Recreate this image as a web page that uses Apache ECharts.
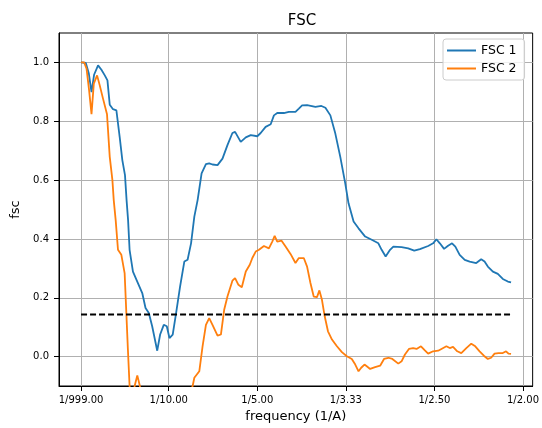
<!DOCTYPE html>
<html>
<head>
<meta charset="utf-8">
<script src="https://cdn.jsdelivr.net/npm/echarts@6/dist/echarts.min.js"></script>
<style>
  html, body { margin: 0; padding: 0; background: #fff; }
  #chart { width: 542px; height: 428px; }
</style>
</head>
<body>
<div id="chart"></div>
<script>
// FSC 1 (blue) - frequency in 1/A
var freq1 = [0.001, 0.0064, 0.0098, 0.0128, 0.0157, 0.0202, 0.0240, 0.0278, 0.0308, 0.0334,
    0.0371, 0.0409, 0.0446, 0.0476, 0.0506, 0.0524, 0.0541, 0.0558, 0.0596, 0.0652,
    0.0701, 0.0738, 0.0775, 0.0813, 0.0870, 0.0903, 0.0944, 0.0978, 0.1008, 0.1045,
    0.1083, 0.1128, 0.1176, 0.1213, 0.1252, 0.1289, 0.1326, 0.1371, 0.1420, 0.1457,
    0.1494, 0.1551, 0.1570, 0.1607, 0.1663, 0.1719, 0.1749, 0.1813, 0.1870, 0.1926,
    0.2000, 0.2038, 0.2094, 0.2151, 0.2188, 0.2225, 0.2300, 0.2356, 0.2431, 0.2469,
    0.2506, 0.2562, 0.2656, 0.2724, 0.2769, 0.2825, 0.2881, 0.2937, 0.2993, 0.3030,
    0.3087, 0.3143, 0.3218, 0.3292, 0.3367, 0.3404, 0.3449, 0.3499, 0.3536, 0.3629,
    0.3704, 0.3772, 0.3836, 0.3929, 0.3985, 0.4022, 0.4061, 0.4109, 0.4154, 0.4199,
    0.4236, 0.4285, 0.4342, 0.4398, 0.4472, 0.4528, 0.4566, 0.4603, 0.4660, 0.4716,
    0.4772, 0.4829, 0.4865];
var fsc1 = [1.000, 0.998, 0.962, 0.899, 0.958, 0.990, 0.975, 0.956, 0.939, 0.856,
    0.841, 0.837, 0.747, 0.668, 0.617, 0.532, 0.464, 0.363, 0.289, 0.250,
    0.216, 0.165, 0.148, 0.103, 0.020, 0.075, 0.108, 0.103, 0.063, 0.075,
    0.148, 0.238, 0.323, 0.329, 0.385, 0.476, 0.532, 0.623, 0.654, 0.657,
    0.653, 0.651, 0.647, 0.673, 0.719, 0.760, 0.764, 0.730, 0.745, 0.753,
    0.749, 0.760, 0.781, 0.790, 0.820, 0.828, 0.828, 0.832, 0.832, 0.843,
    0.854, 0.855, 0.849, 0.852, 0.846, 0.820, 0.758, 0.679, 0.589, 0.521,
    0.459, 0.436, 0.408, 0.397, 0.385, 0.363, 0.340, 0.363, 0.374, 0.372,
    0.368, 0.360, 0.365, 0.376, 0.385, 0.399, 0.385, 0.366, 0.377, 0.385,
    0.374, 0.346, 0.329, 0.323, 0.318, 0.331, 0.323, 0.306, 0.289, 0.281,
    0.264, 0.255, 0.252];

// FSC 2 (orange)
var freq2 = [0.001, 0.0045, 0.0072, 0.0101, 0.0128, 0.0154, 0.0191, 0.0221, 0.0258, 0.0303,
    0.0334, 0.0364, 0.0379, 0.0401, 0.0427, 0.0465, 0.0502, 0.0539, 0.0558, 0.0587,
    0.0615, 0.0645, 0.0674, 0.0704, 0.0783, 0.0896, 0.1008, 0.1120, 0.1210, 0.1270,
    0.1289, 0.1345, 0.1382, 0.1420, 0.1457, 0.1494, 0.1551, 0.1589, 0.1626, 0.1663,
    0.1719, 0.1749, 0.1787, 0.1825, 0.1870, 0.1915, 0.1944, 0.1982, 0.2019, 0.2075,
    0.2131, 0.2169, 0.2196, 0.2225, 0.2274, 0.2319, 0.2375, 0.2431, 0.2469, 0.2525,
    0.2562, 0.2600, 0.2637, 0.2674, 0.2701, 0.2730, 0.2761, 0.2798, 0.2843, 0.2899,
    0.2955, 0.3011, 0.3067, 0.3106, 0.3143, 0.3173, 0.3210, 0.3236, 0.3274, 0.3330,
    0.3387, 0.3431, 0.3480, 0.3525, 0.3592, 0.3629, 0.3667, 0.3712, 0.3760, 0.3798,
    0.3848, 0.3892, 0.3929, 0.3985, 0.4042, 0.4079, 0.4135, 0.4173, 0.4210, 0.4258,
    0.4303, 0.4360, 0.4416, 0.4461, 0.4510, 0.4558, 0.4603, 0.4640, 0.4679, 0.4724,
    0.4772, 0.4809, 0.4836, 0.4865];
var fsc2 = [1.000, 1.000, 0.979, 0.905, 0.824, 0.928, 0.956, 0.922, 0.877, 0.824,
    0.679, 0.600, 0.532, 0.464, 0.363, 0.346, 0.284, 0.024, -0.100, -0.200,
    -0.100, -0.064, -0.100, -0.200, -0.250, -0.300, -0.280, -0.220, -0.150, -0.100,
    -0.072, -0.050, 0.035, 0.108, 0.131, 0.108, 0.071, 0.075, 0.159, 0.204,
    0.258, 0.267, 0.244, 0.236, 0.289, 0.312, 0.335, 0.357, 0.363, 0.376,
    0.368, 0.391, 0.410, 0.391, 0.394, 0.374, 0.349, 0.318, 0.335, 0.335,
    0.306, 0.250, 0.204, 0.202, 0.225, 0.193, 0.137, 0.086, 0.058, 0.035,
    0.015, 0.001, -0.008, -0.027, -0.050, -0.038, -0.027, -0.033, -0.042, -0.036,
    -0.031, -0.008, -0.004, -0.008, -0.024, -0.016, 0.007, 0.026, 0.029, 0.026,
    0.035, 0.021, 0.010, 0.018, 0.020, 0.026, 0.035, 0.029, 0.033, 0.018,
    0.012, 0.029, 0.044, 0.035, 0.018, 0.003, -0.008, -0.004, 0.010, 0.012,
    0.012, 0.018, 0.010, 0.009];

// threshold line
var threshFreq = [0.001, 0.4865];
var threshValue = 0.143;

var xTicks = [0.001, 0.1, 0.2, 0.3, 0.4, 0.5];
var yTicks = [0, 0.2, 0.4, 0.6, 0.8, 1.0];

var myChart = echarts.init(document.getElementById("chart"));
var font = "DejaVu Sans";

function pairs(xs, ys) {
    return xs.map(function (x, i) { return [x, ys[i]]; });
}

var option = {
    animation: false,
    textStyle: { fontFamily: font },
    title: {
        text: "FSC",
        left: 297,
        textAlign: "center",
        top: 9,
        textStyle: { fontFamily: font, fontSize: 15, fontWeight: "normal", color: "#000" }
    },
    legend: {
        orient: "vertical",
        left: 443,
        top: 39,
        padding: [5, 8, 5, 4],
        icon: "rect",
        itemWidth: 29,
        itemHeight: 2,
        itemGap: 5,
        borderColor: "#cccccc",
        borderWidth: 1,
        borderRadius: 3,
        backgroundColor: "rgba(255,255,255,0.8)",
        textStyle: { fontFamily: font, fontSize: 12.5, color: "#000" },
        data: ["FSC 1", "FSC 2"]
    },
    grid: {
        left: 59, right: 7, top: 33, bottom: 41,
        show: true, borderColor: "#000", borderWidth: 1
    },
    xAxis: {
        type: "value",
        min: -0.0239,
        max: 0.5109,
        name: "frequency (1/A)",
        nameLocation: "middle",
        nameGap: 24,
        nameTextStyle: { fontFamily: font, fontSize: 13, color: "#000" },
        axisLine: { show: true, onZero: false, lineStyle: { color: "#000" } },
        axisTick: { show: true, length: 5, customValues: xTicks, lineStyle: { color: "#000" } },
        axisLabel: {
            customValues: xTicks,
            margin: 9,
            fontSize: 10,
            color: "#000",
            formatter: function (v) {
                if (v < 0.01) return "1/999.00";
                return "1/" + (1 / v).toFixed(2);
            }
        },
        splitLine: { show: true, lineStyle: { color: "#b0b0b0", width: 1 } }
    },
    yAxis: {
        type: "value",
        min: -0.1,
        max: 1.1,
        name: "fsc",
        nameLocation: "middle",
        nameGap: 36,
        nameRotate: 90,
        nameTextStyle: { fontFamily: font, fontSize: 13, color: "#000" },
        axisLine: { show: true, onZero: false, lineStyle: { color: "#000" } },
        axisTick: { show: true, length: 5, customValues: yTicks, lineStyle: { color: "#000" } },
        axisLabel: {
            customValues: yTicks,
            margin: 10,
            fontSize: 10,
            color: "#000",
            formatter: function (v) { return v.toFixed(1); }
        },
        splitLine: { show: true, lineStyle: { color: "#b0b0b0", width: 1 } }
    },
    series: [{
        name: "FSC 1",
        type: "line",
        showSymbol: false,
        symbol: "none",
        clip: true,
        color: "#1f77b4",
        lineStyle: { width: 1.8, color: "#1f77b4" },
        data: pairs(freq1, fsc1)
    }, {
        name: "FSC 2",
        type: "line",
        showSymbol: false,
        symbol: "none",
        clip: true,
        color: "#ff7f0e",
        lineStyle: { width: 1.8, color: "#ff7f0e" },
        data: pairs(freq2, fsc2)
    }, {
        name: "threshold",
        type: "line",
        showSymbol: false,
        symbol: "none",
        lineStyle: { width: 1.8, color: "#000", type: [6, 3] },
        data: threshFreq.map(function (f) { return [f, threshValue]; })
    }]
};

myChart.setOption(option);
window.addEventListener("resize", function () {
    myChart.resize();
});
</script>
</body>
</html>
